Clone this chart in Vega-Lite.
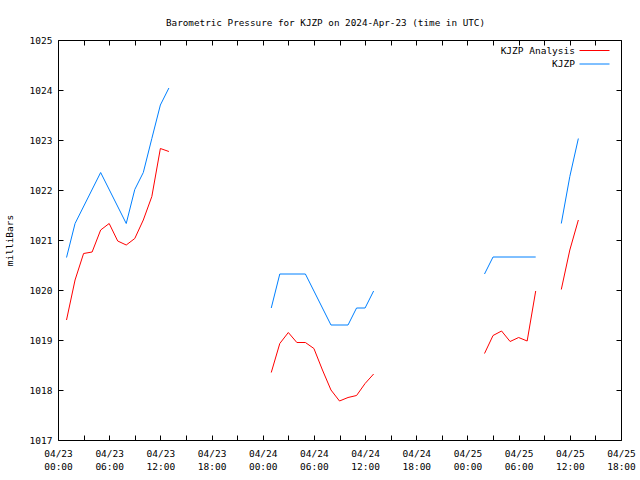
{
  "$schema": "https://vega.github.io/schema/vega-lite/v6.json",
  "width": 563,
  "height": 400,
  "autosize": {"type": "none"},
  "padding": {"left": 58, "top": 40, "right": 19, "bottom": 40},
  "background": "white",
  "config": {
    "view": {"stroke": "black", "strokeWidth": 1},
    "font": "DejaVu Sans Mono",
    "axis": {"labelFont": "DejaVu Sans Mono", "titleFont": "DejaVu Sans Mono", "labelFontSize": 9.5, "titleFontSize": 9.5, "labelColor": "black", "titleColor": "black", "tickColor": "black", "domain": false, "grid": false, "titleFontWeight": "normal"},
    "legend": {"labelFont": "DejaVu Sans Mono", "labelFontSize": 9.5, "labelColor": "black"}
  },
  "title": {"text": "Barometric Pressure for KJZP on 2024-Apr-23 (time in UTC)", "font": "DejaVu Sans Mono", "fontSize": 9.3, "fontWeight": "normal", "color": "black", "anchor": "middle", "dx": -14, "offset": 7},
  "data": {"values": [
    {"h": 1, "p": 1019.40, "series": "KJZP Analysis", "seg": "a1"},
    {"h": 2, "p": 1020.20, "series": "KJZP Analysis", "seg": "a1"},
    {"h": 3, "p": 1020.73, "series": "KJZP Analysis", "seg": "a1"},
    {"h": 4, "p": 1020.76, "series": "KJZP Analysis", "seg": "a1"},
    {"h": 5, "p": 1021.20, "series": "KJZP Analysis", "seg": "a1"},
    {"h": 6, "p": 1021.33, "series": "KJZP Analysis", "seg": "a1"},
    {"h": 7, "p": 1020.98, "series": "KJZP Analysis", "seg": "a1"},
    {"h": 8, "p": 1020.90, "series": "KJZP Analysis", "seg": "a1"},
    {"h": 9, "p": 1021.03, "series": "KJZP Analysis", "seg": "a1"},
    {"h": 10, "p": 1021.40, "series": "KJZP Analysis", "seg": "a1"},
    {"h": 11, "p": 1021.87, "series": "KJZP Analysis", "seg": "a1"},
    {"h": 12, "p": 1022.83, "series": "KJZP Analysis", "seg": "a1"},
    {"h": 13, "p": 1022.77, "series": "KJZP Analysis", "seg": "a1"},
    {"h": 25, "p": 1018.35, "series": "KJZP Analysis", "seg": "a2"},
    {"h": 26, "p": 1018.93, "series": "KJZP Analysis", "seg": "a2"},
    {"h": 27, "p": 1019.15, "series": "KJZP Analysis", "seg": "a2"},
    {"h": 28, "p": 1018.95, "series": "KJZP Analysis", "seg": "a2"},
    {"h": 29, "p": 1018.95, "series": "KJZP Analysis", "seg": "a2"},
    {"h": 30, "p": 1018.83, "series": "KJZP Analysis", "seg": "a2"},
    {"h": 31, "p": 1018.40, "series": "KJZP Analysis", "seg": "a2"},
    {"h": 32, "p": 1018.00, "series": "KJZP Analysis", "seg": "a2"},
    {"h": 33, "p": 1017.78, "series": "KJZP Analysis", "seg": "a2"},
    {"h": 34, "p": 1017.85, "series": "KJZP Analysis", "seg": "a2"},
    {"h": 35, "p": 1017.89, "series": "KJZP Analysis", "seg": "a2"},
    {"h": 36, "p": 1018.13, "series": "KJZP Analysis", "seg": "a2"},
    {"h": 37, "p": 1018.32, "series": "KJZP Analysis", "seg": "a2"},
    {"h": 50, "p": 1018.73, "series": "KJZP Analysis", "seg": "a3"},
    {"h": 51, "p": 1019.09, "series": "KJZP Analysis", "seg": "a3"},
    {"h": 52, "p": 1019.18, "series": "KJZP Analysis", "seg": "a3"},
    {"h": 53, "p": 1018.97, "series": "KJZP Analysis", "seg": "a3"},
    {"h": 54, "p": 1019.05, "series": "KJZP Analysis", "seg": "a3"},
    {"h": 55, "p": 1018.98, "series": "KJZP Analysis", "seg": "a3"},
    {"h": 56, "p": 1019.98, "series": "KJZP Analysis", "seg": "a3"},
    {"h": 59, "p": 1020.01, "series": "KJZP Analysis", "seg": "a4"},
    {"h": 60, "p": 1020.80, "series": "KJZP Analysis", "seg": "a4"},
    {"h": 61, "p": 1021.40, "series": "KJZP Analysis", "seg": "a4"},
    {"h": 1, "p": 1020.65, "series": "KJZP", "seg": "b1"},
    {"h": 2, "p": 1021.33, "series": "KJZP", "seg": "b1"},
    {"h": 5, "p": 1022.35, "series": "KJZP", "seg": "b1"},
    {"h": 8, "p": 1021.33, "series": "KJZP", "seg": "b1"},
    {"h": 9, "p": 1022.01, "series": "KJZP", "seg": "b1"},
    {"h": 10, "p": 1022.35, "series": "KJZP", "seg": "b1"},
    {"h": 11, "p": 1023.03, "series": "KJZP", "seg": "b1"},
    {"h": 12, "p": 1023.70, "series": "KJZP", "seg": "b1"},
    {"h": 13, "p": 1024.04, "series": "KJZP", "seg": "b1"},
    {"h": 25, "p": 1019.64, "series": "KJZP", "seg": "b2"},
    {"h": 26, "p": 1020.32, "series": "KJZP", "seg": "b2"},
    {"h": 29, "p": 1020.32, "series": "KJZP", "seg": "b2"},
    {"h": 32, "p": 1019.30, "series": "KJZP", "seg": "b2"},
    {"h": 34, "p": 1019.30, "series": "KJZP", "seg": "b2"},
    {"h": 35, "p": 1019.64, "series": "KJZP", "seg": "b2"},
    {"h": 36, "p": 1019.64, "series": "KJZP", "seg": "b2"},
    {"h": 37, "p": 1019.98, "series": "KJZP", "seg": "b2"},
    {"h": 50, "p": 1020.32, "series": "KJZP", "seg": "b3"},
    {"h": 51, "p": 1020.66, "series": "KJZP", "seg": "b3"},
    {"h": 56, "p": 1020.66, "series": "KJZP", "seg": "b3"},
    {"h": 59, "p": 1021.33, "series": "KJZP", "seg": "b4"},
    {"h": 60, "p": 1022.27, "series": "KJZP", "seg": "b4"},
    {"h": 61, "p": 1023.03, "series": "KJZP", "seg": "b4"}
  ]},
  "layer": [
    {
      "mark": {"type": "line", "strokeWidth": 1},
      "encoding": {
        "x": {"field": "h", "type": "quantitative",
          "scale": {"domain": [0, 66], "nice": false, "zero": false},
          "axis": {"orient": "bottom", "title": null,
            "values": [0, 3, 6, 9, 12, 15, 18, 21, 24, 27, 30, 33, 36, 39, 42, 45, 48, 51, 54, 57, 60, 63, 66],
            "labelExpr": "datum.value % 6 == 0 ? ['04/' + (23 + floor(datum.value / 24)), (datum.value % 24 < 10 ? '0' : '') + (datum.value % 24) + ':00'] : ''",
            "tickSize": -5,
            "labelPadding": 13.5, "labelLineHeight": 13, "labelBaseline": "top", "labelFlush": false, "labelOverlap": false}},
        "y": {"field": "p", "type": "quantitative",
          "scale": {"domain": [1017, 1025], "nice": false, "zero": false},
          "axis": {"orient": "left", "title": "milliBars", "values": [1017, 1018, 1019, 1020, 1021, 1022, 1023, 1024, 1025], "format": "d",
            "tickSize": -5, "labelPadding": 11, "titleX": -46, "titleBaseline": "alphabetic", "titleAngle": -90}},
        "color": {"field": "series", "type": "nominal",
          "scale": {"domain": ["KJZP Analysis", "KJZP"], "range": ["#ff0000", "#0080ff"]},
          "legend": {"title": null, "orient": "none", "legendX": 531, "legendY": 5, "padding": 0, "symbolType": "M-3,0H3", "symbolSize": 100, "symbolStrokeWidth": 1, "labelAlign": "right", "labelOffset": -25, "rowPadding": 3.5}},
        "detail": {"field": "seg"}
      }
    },
    {
      "mark": {"type": "line", "opacity": 0},
      "encoding": {
        "x": {"field": "h", "type": "quantitative",
          "axis": {"orient": "top", "title": null, "labels": false, "tickSize": -5,
            "values": [0, 3, 6, 9, 12, 15, 18, 21, 24, 27, 30, 33, 36, 39, 42, 45, 48, 51, 54, 57, 60, 63, 66]}},
        "y": {"field": "p", "type": "quantitative",
          "axis": {"orient": "right", "title": null, "labels": false, "tickSize": -5,
            "values": [1017, 1018, 1019, 1020, 1021, 1022, 1023, 1024, 1025]}},
        "detail": {"field": "seg"}
      }
    }
  ],
  "resolve": {"axis": {"x": "independent", "y": "independent"}}
}
